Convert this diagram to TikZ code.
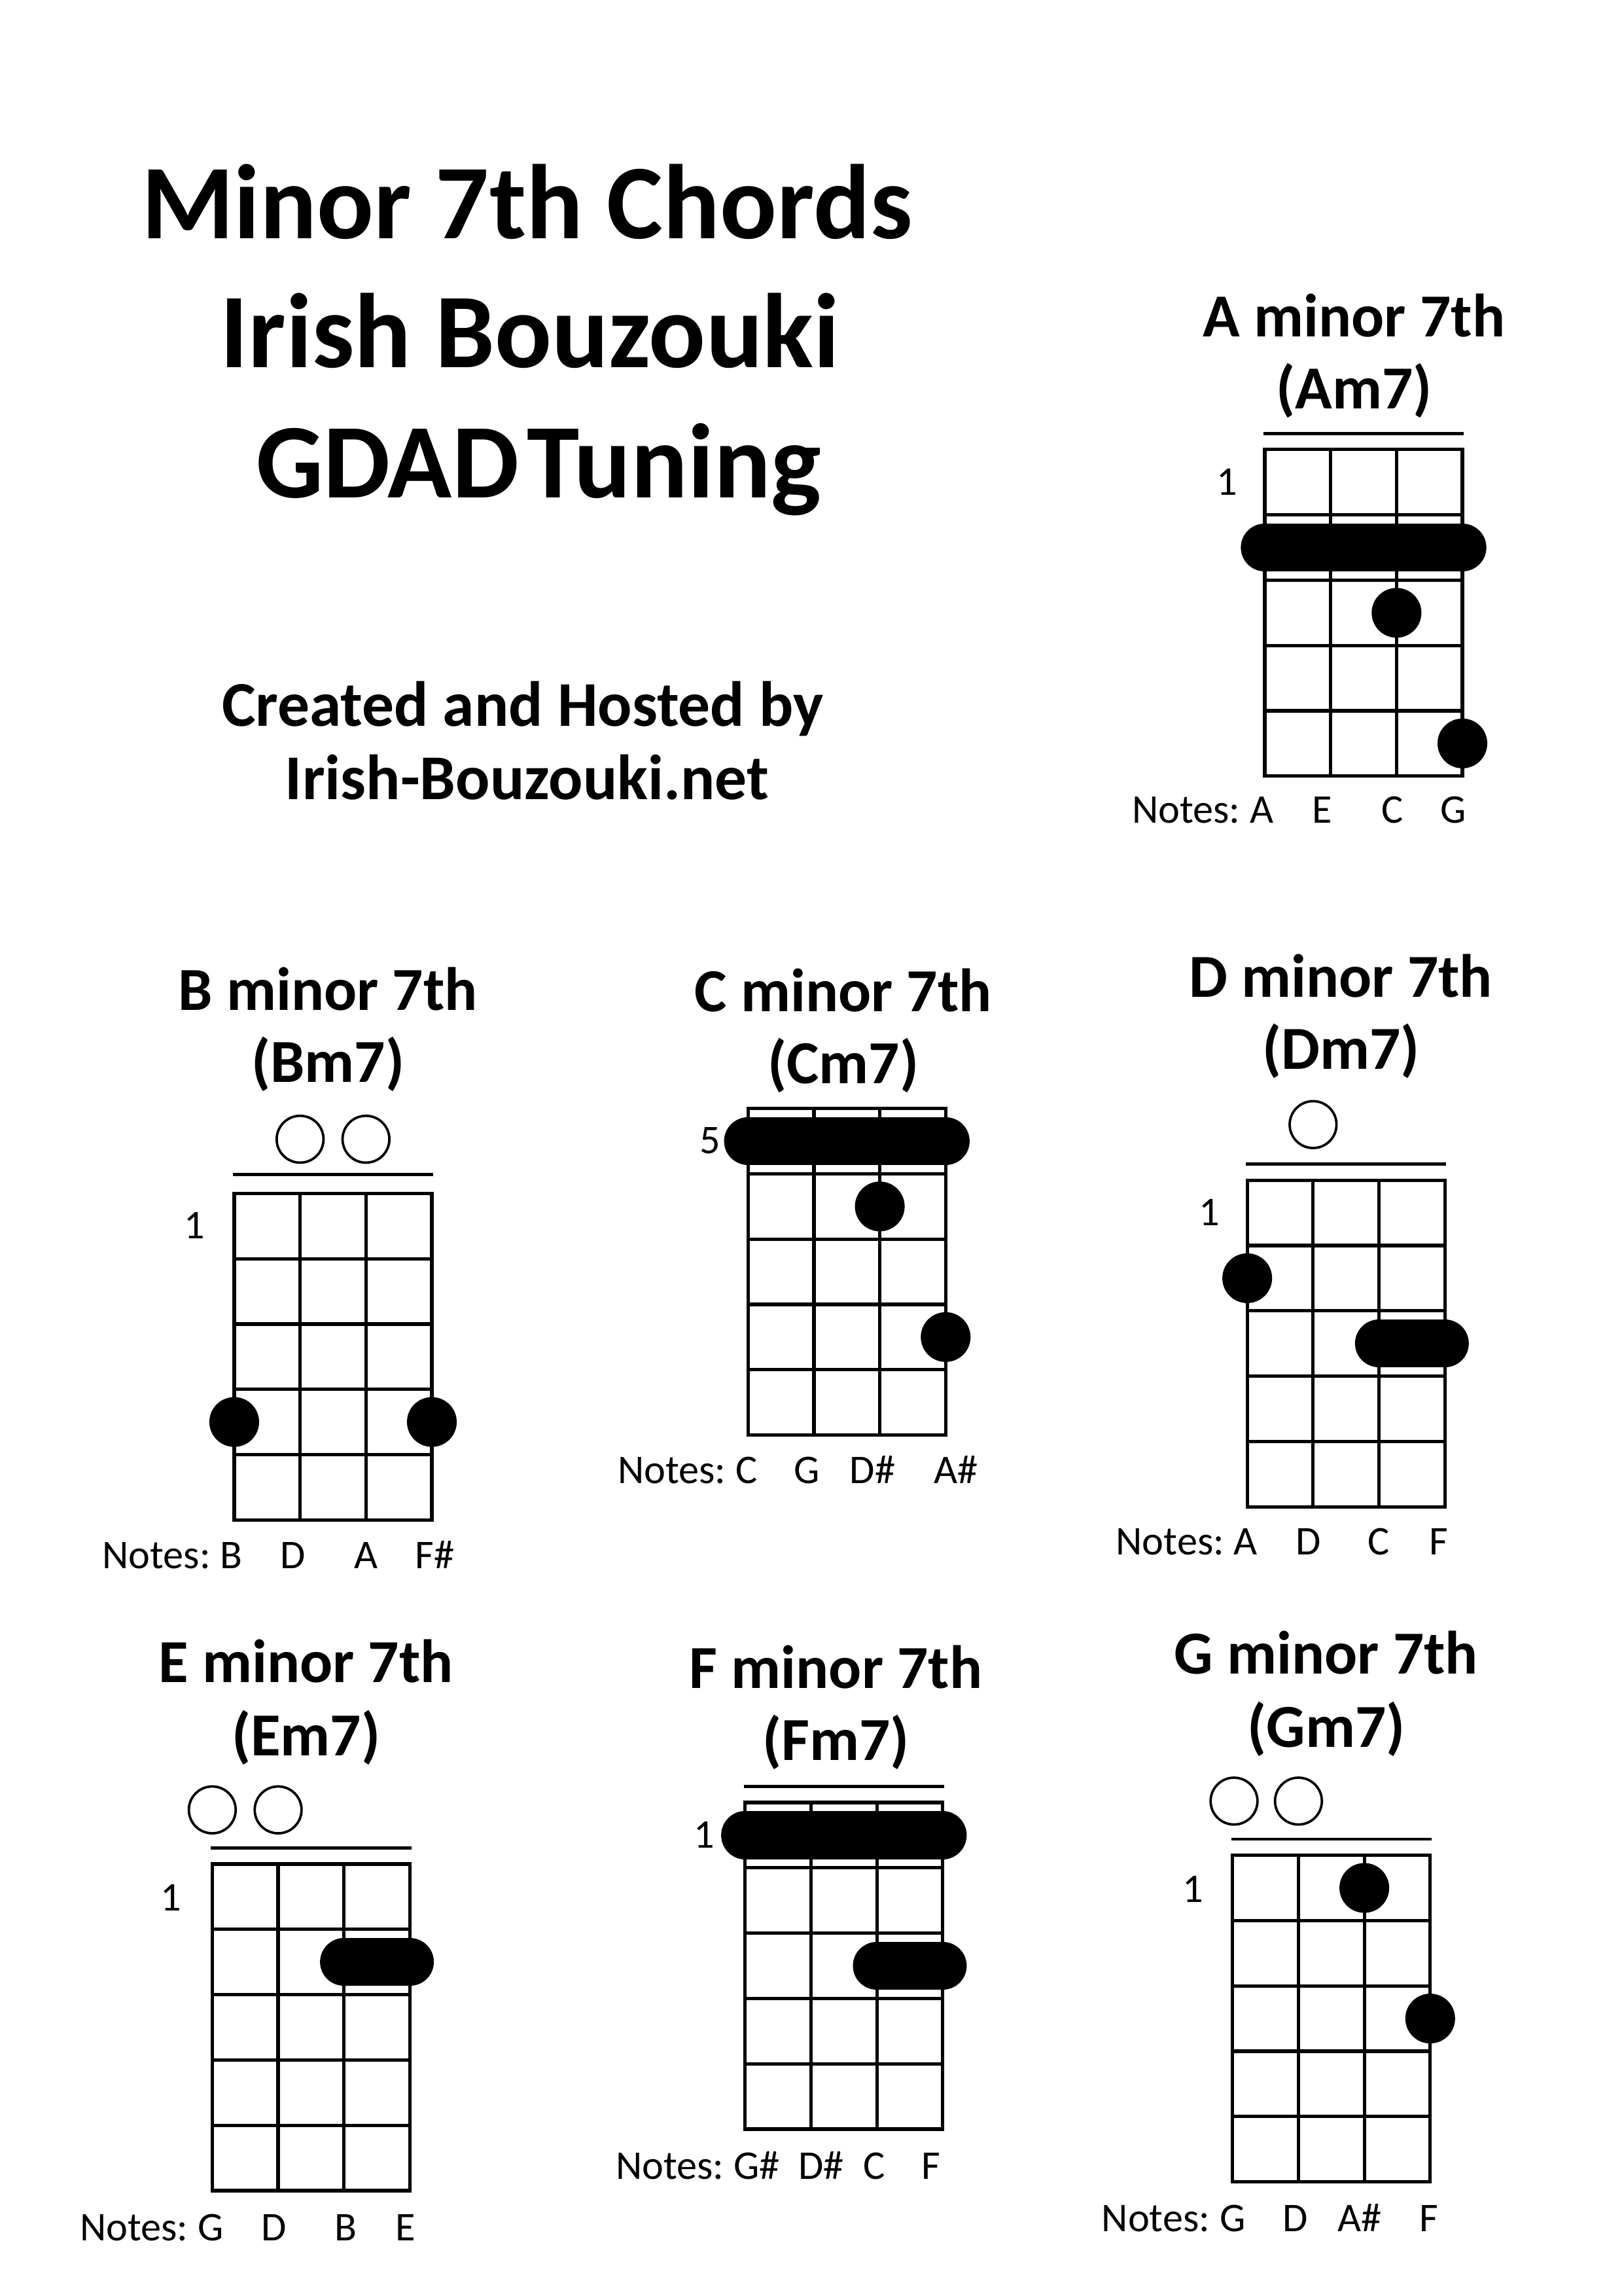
\documentclass[tikz,border=0pt]{standalone}
\usepackage{fontspec}
\setmainfont{Carlito}
\usetikzlibrary{positioning}

\tikzset{every picture/.style={line width=0.75pt}}
\tikzset{
  fretline/.style={line width=1.25pt},
  nutline/.style={line width=1.1pt},
  fingerdot/.style={fill=black},
  barre/.style={line width=6.2mm, line cap=round},
  opendot/.style={line width=0.9pt},
  bigtitle/.style={font=\fontsize{39}{47}\selectfont\bfseries, inner sep=0pt, anchor=base},
  credit/.style={font=\fontsize{23.5}{28}\selectfont\bfseries, inner sep=0pt, anchor=base},
  chordtitle/.style={font=\fontsize{22.5}{27}\selectfont\bfseries, inner sep=0pt, anchor=base},
  notetext/.style={font=\fontsize{15}{18}\selectfont, inner sep=0pt, anchor=base},
  fretnum/.style={font=\fontsize{15}{18}\selectfont, inner sep=0pt},
}
% 4 strings, 5 frets, from the top left corner
\newcommand{\fretgrid}[2]{%
  \draw[fretline] (#1,#2) rectangle ++(135,223);
  \foreach \s in {1,2} \draw[fretline] ({#1+45*\s},#2) -- ++(0,223);
  \foreach \f in {1,...,4} \draw[fretline] (#1,{#2+44.6*\f}) -- ++(135,0);
}

\begin{document}
\begin{tikzpicture}[x=0.18936mm,y=0.18936mm,yscale=-1,xscale=1]
\path[use as bounding box, fill=white] (0,0) rectangle (1109,1568);

% Text Node
\node[bigtitle] (title1) at (360,163) {Minor 7th Chords};
% Text Node
\node[bigtitle] (title2) at (362,251) {Irish Bouzouki};
% Text Node
\node[bigtitle] (title3) at (368,340) {GDAD\hspace{0.08em}Tuning};
% Text Node
\node[credit] (credit1) at (357,496) {Created and Hosted by};
% Text Node
\node[credit] (credit2) at (360,546) {Irish-Bouzouki.net};

%A minor 7th
\node[chordtitle] (am-title) at (925,230) {A minor 7th};
\node[chordtitle] (am-name) at (925,279) {(Am7)};
\draw[nutline] (863,296) -- (1000,296);
\fretgrid{864}{307}
\node[fretnum] (am-fret) at (838,329) {1};
\draw[barre] (864,373.9) -- (999,373.9);
\fill[fingerdot] (954,418.5) circle [radius=17];
\fill[fingerdot] (999,507.7) circle [radius=17];
\node[notetext] (am-n1) at (862,562) {A};
\node[notetext] (am-n2) at (903,562) {E};
\node[notetext] (am-n3) at (951,562) {C};
\node[notetext] (am-n4) at (993,562) {G};
\node[notetext, base left=1mm of am-n1] (am-notes) {Notes:};

%B minor 7th
\node[chordtitle] (bm-title) at (224,690) {B minor 7th};
\node[chordtitle] (bm-name) at (224,739) {(Bm7)};
\draw[opendot] (205,778) circle [radius=16];
\draw[opendot] (250,778) circle [radius=16];
\draw[nutline] (159,802) -- (296,802);
\fretgrid{160}{815}
\node[fretnum] (bm-fret) at (133,837) {1};
\fill[fingerdot] (160,971.1) circle [radius=17];
\fill[fingerdot] (295,971.1) circle [radius=17];
\node[notetext] (bm-n1) at (158,1071) {B};
\node[notetext] (bm-n2) at (200,1071) {D};
\node[notetext] (bm-n3) at (250,1071) {A};
\node[notetext] (bm-n4) at (297,1071) {F\#};
\node[notetext, base left=1mm of bm-n1] (bm-notes) {Notes:};

%C minor 7th
\node[chordtitle] (cm-title) at (576,691) {C minor 7th};
\node[chordtitle] (cm-name) at (576,740) {(Cm7)};
\fretgrid{511}{757}
\node[fretnum] (cm-fret) at (485,779) {5};
\draw[barre] (511,779.3) -- (646,779.3);
\fill[fingerdot] (601,823.9) circle [radius=17];
\fill[fingerdot] (646,913.1) circle [radius=17];
\node[notetext] (cm-n1) at (510,1013) {C};
\node[notetext] (cm-n2) at (551,1013) {G};
\node[notetext] (cm-n3) at (596,1013) {D\#};
\node[notetext] (cm-n4) at (653,1013) {A\#};
\node[notetext, base left=1mm of cm-n1] (cm-notes) {Notes:};

%D minor 7th
\node[chordtitle] (dm-title) at (916,681) {D minor 7th};
\node[chordtitle] (dm-name) at (916,730) {(Dm7)};
\draw[opendot] (897,768) circle [radius=16];
\draw[nutline] (851,795) -- (988,795);
\fretgrid{852}{806}
\node[fretnum] (dm-fret) at (826,828) {1};
\fill[fingerdot] (852,872.9) circle [radius=17];
\draw[barre] (942,917.5) -- (987,917.5);
\node[notetext] (dm-n1) at (851,1062) {A};
\node[notetext] (dm-n2) at (894,1062) {D};
\node[notetext] (dm-n3) at (942,1062) {C};
\node[notetext] (dm-n4) at (983,1062) {F};
\node[notetext, base left=1mm of dm-n1] (dm-notes) {Notes:};

%E minor 7th
\node[chordtitle] (em-title) at (209,1149) {E minor 7th};
\node[chordtitle] (em-name) at (209,1199) {(Em7)};
\draw[opendot] (145,1236) circle [radius=16];
\draw[opendot] (190,1236) circle [radius=16];
\draw[nutline] (144,1262) -- (281,1262);
\fretgrid{145}{1273}
\node[fretnum] (em-fret) at (117,1296) {1};
\draw[barre] (235,1339.9) -- (280,1339.9);
\node[notetext] (em-n1) at (144,1530) {G};
\node[notetext] (em-n2) at (187,1530) {D};
\node[notetext] (em-n3) at (236,1530) {B};
\node[notetext] (em-n4) at (277,1530) {E};
\node[notetext, base left=1mm of em-n1] (em-notes) {Notes:};

%F minor 7th
\node[chordtitle] (fm-title) at (571,1153) {F minor 7th};
\node[chordtitle] (fm-name) at (571,1202) {(Fm7)};
\draw[nutline] (508,1220) -- (645,1220);
\fretgrid{509}{1231}
\node[fretnum] (fm-fret) at (481,1253) {1};
\draw[barre] (509,1253.3) -- (644,1253.3);
\draw[barre] (599,1342.5) -- (644,1342.5);
\node[notetext] (fm-n1) at (517,1488) {G\#};
\node[notetext] (fm-n2) at (561,1488) {D\#};
\node[notetext] (fm-n3) at (597,1488) {C};
\node[notetext] (fm-n4) at (636,1488) {F};
\node[notetext, base left=1mm of fm-n1] (fm-notes) {Notes:};

%G minor 7th
\node[chordtitle] (gm-title) at (906,1143) {G minor 7th};
\node[chordtitle] (gm-name) at (906,1193) {(Gm7)};
\draw[opendot] (843,1230) circle [radius=16];
\draw[opendot] (887,1230) circle [radius=16];
\draw[nutline] (841,1256) -- (978,1256);
\fretgrid{842}{1267}
\node[fretnum] (gm-fret) at (815,1290) {1};
\fill[fingerdot] (932,1289.3) circle [radius=17];
\fill[fingerdot] (977,1378.5) circle [radius=17];
\node[notetext] (gm-n1) at (842,1524) {G};
\node[notetext] (gm-n2) at (885,1524) {D};
\node[notetext] (gm-n3) at (929,1524) {A\#};
\node[notetext] (gm-n4) at (976,1524) {F};
\node[notetext, base left=1mm of gm-n1] (gm-notes) {Notes:};

\end{tikzpicture}
\end{document}
